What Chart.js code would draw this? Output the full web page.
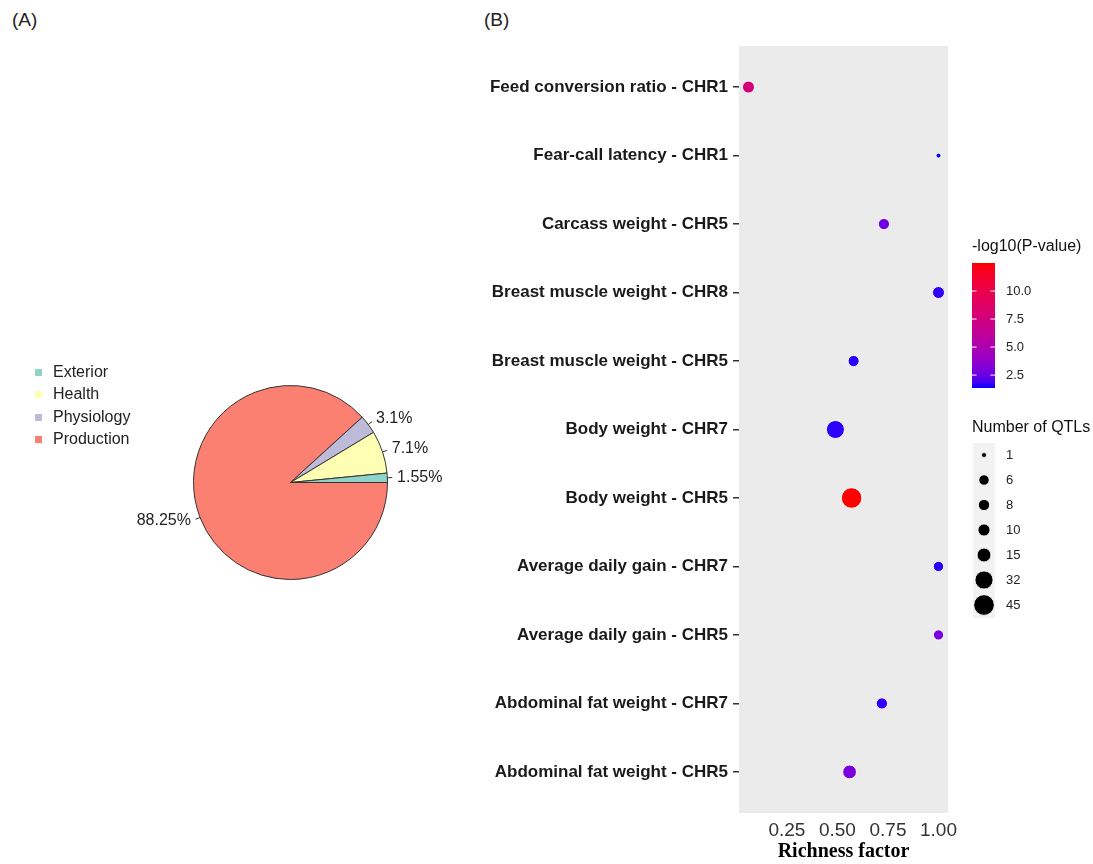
<!DOCTYPE html>
<html lang="en">
<head>
<meta charset="UTF-8">
<title>QTL categories and enrichment</title>
<script src="https://cdn.jsdelivr.net/npm/chart.js"></script>
<style>
    body {
        margin: 0;
        background: #fff;
        font-family: "Liberation Sans", Arial, sans-serif;
    }
    .page {
        position: relative;
        width: 1093px;
        height: 864px;
        overflow: hidden;
    }
    .tag {
        position: absolute;
        top: 9px;
        font-size: 19px;
        color: #222;
    }
    #pieChart { position: absolute; left: 0; top: 0; }
    #dotChart { position: absolute; left: 470px; top: 0; }
    .legend {
        position: absolute;
        left: 35px;
        top: 361px;
        font-size: 16px;
        color: #222;
    }
    .legend div {
        position: relative;
        height: 22.4px;
        line-height: 22.4px;
        padding-left: 18px;
    }
    .legend span {
        position: absolute;
        left: 0;
        top: 8px;
        width: 7px;
        height: 7px;
    }
</style>
</head>
<body>
<div class="page">
    <div class="tag" style="left:12px">(A)</div>
    <div class="tag" style="left:484px">(B)</div>
    <canvas id="pieChart" width="480" height="864"></canvas>
    <canvas id="dotChart" width="623" height="864"></canvas>
    <div class="legend" id="pieLegend"></div>
</div>

<script>
    // Panel A: QTL categories
    const groups = ['Exterior', 'Health', 'Physiology', 'Production'];
    const groupShares = [1.55, 7.1, 3.1, 88.25];
    const groupColors = ['#8DD3C7', '#FFFFB3', '#BEBADA', '#FB8072'];

    // Panel B: enriched traits (top to bottom)
    const traits = [
        'Feed conversion ratio - CHR1',
        'Fear-call latency - CHR1',
        'Carcass weight - CHR5',
        'Breast muscle weight - CHR8',
        'Breast muscle weight - CHR5',
        'Body weight - CHR7',
        'Body weight - CHR5',
        'Average daily gain - CHR7',
        'Average daily gain - CHR5',
        'Abdominal fat weight - CHR7',
        'Abdominal fat weight - CHR5'
    ];
    const richness = [0.06, 1.00, 0.73, 1.00, 0.58, 0.49, 0.57, 1.00, 1.00, 0.72, 0.56];
    const qtlCounts = [10, 1, 8, 10, 8, 32, 45, 6, 6, 8, 15];
    const logP = [7.8, 1.35, 2.6, 1.6, 1.5, 1.55, 12.5, 1.5, 2.9, 1.6, 3.0];

    const xTicks = [0.25, 0.50, 0.75, 1.00];
    const colorBreaks = [2.5, 5.0, 7.5, 10.0];
    const sizeBreaks = [1, 6, 8, 10, 15, 32, 45];

    const SANS = '"Liberation Sans", Arial, sans-serif';
    const OX = 470; // left of the dot chart canvas in the page

    // legend for the pie (HTML)
    const legendDiv = document.getElementById('pieLegend');
    groups.forEach((g, i) => {
        const row = document.createElement('div');
        row.innerHTML = '<span style="background:' + groupColors[i] + '"></span>' + g;
        legendDiv.appendChild(row);
    });

    // blue -> red gradient in Lab space, like ggplot
    function toLin(c) { c /= 255; return c <= 0.04045 ? c / 12.92 : Math.pow((c + 0.055) / 1.055, 2.4); }
    function toSrgb(c) {
        c = Math.max(0, Math.min(1, c));
        return Math.round(255 * (c <= 0.0031308 ? 12.92 * c : 1.055 * Math.pow(c, 1 / 2.4) - 0.055));
    }
    function rgbToLab(rgb) {
        const R = toLin(rgb[0]), G = toLin(rgb[1]), B = toLin(rgb[2]);
        const X = (0.4124 * R + 0.3576 * G + 0.1805 * B) / 0.95047;
        const Y = 0.2126 * R + 0.7152 * G + 0.0722 * B;
        const Z = (0.0193 * R + 0.1192 * G + 0.9505 * B) / 1.08883;
        const f = t => t > 0.008856 ? Math.cbrt(t) : 7.787 * t + 16 / 116;
        return [116 * f(Y) - 16, 500 * (f(X) - f(Y)), 200 * (f(Y) - f(Z))];
    }
    function labToRgb(lab) {
        const fy = (lab[0] + 16) / 116, fx = fy + lab[1] / 500, fz = fy - lab[2] / 200;
        const inv = t => t > 0.206893 ? t * t * t : (t - 16 / 116) / 7.787;
        const X = 0.95047 * inv(fx), Y = inv(fy), Z = 1.08883 * inv(fz);
        const r = toSrgb(3.2406 * X - 1.5372 * Y - 0.4986 * Z);
        const g = toSrgb(-0.9689 * X + 1.8758 * Y + 0.0415 * Z);
        const b = toSrgb(0.0557 * X - 0.2040 * Y + 1.0570 * Z);
        return 'rgb(' + r + ',' + g + ',' + b + ')';
    }
    const labLow = rgbToLab([0, 0, 255]);
    const labHigh = rgbToLab([255, 0, 0]);
    const pMin = Math.min(...logP), pMax = Math.max(...logP);
    function pColor(v) {
        const t = (v - pMin) / (pMax - pMin);
        return labToRgb(labLow.map((l, k) => l + (labHigh[k] - l) * t));
    }
    const nMin = Math.min(...qtlCounts), nMax = Math.max(...qtlCounts);
    function sizeR(n) {
        return 2.5 + 7.8 * Math.sqrt((n - nMin) / (nMax - nMin));
    }

    // percentage labels with short leader lines
    const pieLabels = {
        id: 'pieLabels',
        afterDatasetsDraw(chart) {
            const ctx = chart.ctx;
            const meta = chart.getDatasetMeta(0);
            const values = chart.data.datasets[0].data;
            ctx.save();
            ctx.font = '16px ' + SANS;
            ctx.fillStyle = '#222';
            ctx.strokeStyle = '#333';
            ctx.lineWidth = 1;
            ctx.textBaseline = 'middle';
            meta.data.forEach((arc, i) => {
                const p = arc.getProps(['x', 'y', 'startAngle', 'endAngle', 'outerRadius'], true);
                const a = (p.startAngle + p.endAngle) / 2;
                const c = Math.cos(a), s = Math.sin(a), r = p.outerRadius;
                ctx.beginPath();
                ctx.moveTo(p.x + c * r, p.y + s * r);
                ctx.lineTo(p.x + c * r * 1.05, p.y + s * r * 1.05);
                ctx.stroke();
                ctx.textAlign = c > 0 ? 'left' : 'right';
                ctx.fillText(values[i] + '%', p.x + c * r * 1.1, p.y + s * r * 1.1);
            });
            ctx.restore();
        }
    };

    // slices are listed in reverse so they run anticlockwise from 3 o'clock
    new Chart(document.getElementById('pieChart'), {
        type: 'pie',
        data: {
            labels: groups.slice().reverse(),
            datasets: [{
                data: groupShares.slice().reverse(),
                backgroundColor: groupColors.slice().reverse(),
                borderColor: '#333',
                borderWidth: 1,
                hoverOffset: 0,
                offset: 0
            }]
        },
        options: {
            responsive: false,
            animation: false,
            events: [],
            rotation: 90,
            layout: { padding: { left: 193, right: 92, top: 385, bottom: 284 } },
            plugins: { legend: { display: false }, tooltip: { enabled: false } }
        },
        plugins: [pieLabels]
    });

    // grey panel behind the dots
    const panelBg = {
        id: 'panelBg',
        beforeDraw(chart) {
            const a = chart.chartArea;
            chart.ctx.save();
            chart.ctx.fillStyle = '#EBEBEB';
            chart.ctx.fillRect(a.left, a.top, a.right - a.left, a.bottom - a.top);
            chart.ctx.restore();
        }
    };

    // colour bar and size key on the right
    const scaleLegends = {
        id: 'scaleLegends',
        afterDraw(chart) {
            const ctx = chart.ctx;
            ctx.save();
            ctx.fillStyle = '#111';
            ctx.textBaseline = 'middle';
            ctx.textAlign = 'left';
            ctx.font = '16px ' + SANS;
            ctx.fillText('-log10(P-value)', 972 - OX, 247);
            ctx.fillText('Number of QTLs', 972 - OX, 428);

            // colour bar
            const bx = 972 - OX, bw = 23, top = 263, bottom = 388;
            const grad = ctx.createLinearGradient(0, bottom, 0, top);
            for (let k = 0; k <= 20; k++) {
                grad.addColorStop(k / 20, pColor(pMin + (pMax - pMin) * k / 20));
            }
            ctx.fillStyle = grad;
            ctx.fillRect(bx, top, bw, bottom - top);
            ctx.strokeStyle = '#fff';
            ctx.lineWidth = 1;
            ctx.font = '13px ' + SANS;
            colorBreaks.forEach(v => {
                const y = bottom - (v - pMin) / (pMax - pMin) * (bottom - top);
                ctx.beginPath();
                ctx.moveTo(bx, y); ctx.lineTo(bx + 4.6, y);
                ctx.moveTo(bx + bw - 4.6, y); ctx.lineTo(bx + bw, y);
                ctx.stroke();
                ctx.fillStyle = '#222';
                ctx.fillText(v.toFixed(1), 1006 - OX, y);
            });

            // size key
            ctx.fillStyle = '#F2F2F2';
            ctx.fillRect(973 - OX, 443, 22, 175);
            sizeBreaks.forEach((n, i) => {
                const y = 455 + 25 * i;
                ctx.beginPath();
                ctx.arc(984 - OX, y, sizeR(n), 0, Math.PI * 2);
                ctx.fillStyle = '#000';
                ctx.fill();
                ctx.strokeStyle = '#fff';
                ctx.lineWidth = 0.8;
                ctx.stroke();
                ctx.fillStyle = '#222';
                ctx.fillText(String(n), 1006 - OX, y);
            });
            ctx.restore();
        }
    };

    const points = traits.map((t, i) => ({
        x: richness[i],
        y: i,
        r: sizeR(qtlCounts[i]),
        p: logP[i]
    }));

    new Chart(document.getElementById('dotChart'), {
        type: 'bubble',
        data: {
            datasets: [{
                data: points,
                backgroundColor: ctx => pColor(ctx.raw.p),
                borderColor: '#fff',
                borderWidth: 1
            }]
        },
        options: {
            responsive: false,
            animation: false,
            events: [],
            layout: { padding: { top: 46, right: 145, left: 0, bottom: 0 } },
            scales: {
                x: {
                    type: 'linear',
                    min: 0.013,
                    max: 1.047,
                    afterBuildTicks: s => { s.ticks = xTicks.map(v => ({ value: v })); },
                    afterFit: s => { s.height = 51; },
                    grid: { display: false, drawTicks: false },
                    border: { display: false },
                    ticks: {
                        font: { family: SANS, size: 19 },
                        color: '#333',
                        padding: 6,
                        maxRotation: 0,
                        callback: v => Number(v).toFixed(2)
                    },
                    title: {
                        display: true,
                        text: 'Richness factor',
                        font: { family: '"Liberation Serif", "Times New Roman", serif', weight: 'bold', size: 20 },
                        color: '#000',
                        padding: { top: 0, bottom: 0 }
                    }
                },
                y: {
                    type: 'linear',
                    reverse: true,
                    min: -0.6,
                    max: traits.length - 0.4,
                    afterBuildTicks: s => { s.ticks = traits.map((t, i) => ({ value: i })); },
                    afterFit: s => { s.width = 269; },
                    grid: { drawOnChartArea: false, drawTicks: true, tickLength: 6, lineWidth: 1.5, color: '#333', tickColor: '#333' },
                    border: { display: false },
                    ticks: {
                        font: { family: SANS, size: 17, weight: 'bold' },
                        color: '#1a1a1a',
                        padding: 5,
                        callback: v => traits[v]
                    }
                }
            },
            plugins: { legend: { display: false }, tooltip: { enabled: false } }
        },
        plugins: [panelBg, scaleLegends]
    });
</script>
</body>
</html>
